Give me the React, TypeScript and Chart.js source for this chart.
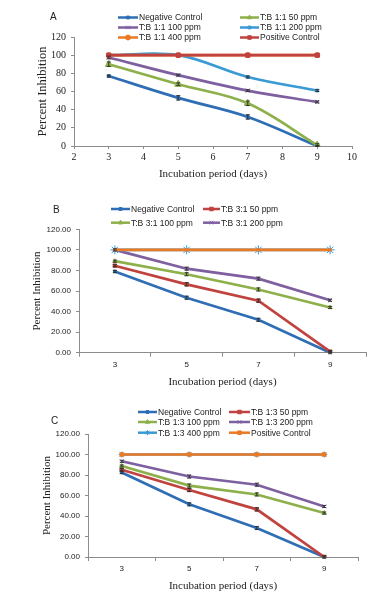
import React, { useEffect, useRef } from 'react';
import { Chart, registerables } from 'chart.js';
import { drawPoint } from 'chart.js/helpers';
Chart.register(...registerables);

// ---------- data ----------
const days = [3, 5, 7, 9];
const dayLabels = ['3', '5', '7', '9'];
const yTicksA = [0, 20, 40, 60, 80, 100, 120];

// Panel A (T:B 1:1)
const aNegative = [77, 53, 32, 0];
const a50 = [90, 68, 47, 1];
const a100 = [97.5, 78, 61, 48.5];
const a200 = [100, 100, 76, 61];
const a400 = [100, 100, 100, 100];
const aPositive = [100, 100, 100, 100];
const aNegativeErr = [1, 2.5, 2.5, 0.5];
const a50Err = [2.5, 1.5, 2.5, 1.5];
const a100Err = [1.5, 1, 1, 1];
const a200Err = [0, 0, 1, 1];

// Panel B (T:B 3:1)
const bNegative = [79, 53.5, 32, 0];
const b50 = [84.6, 66.5, 50.6, 1];
const b100 = [89, 76.3, 61.5, 44];
const b200 = [100, 81.7, 72, 51];
const b400 = [100, 100, 100, 100];
const bPositive = [100, 100, 100, 100];
const bErr = [1, 1.5, 1.5, 1];

// Panel C (T:B 1:3)
const cNegative = [82.5, 51.4, 28.3, 0];
const c50 = [85.2, 65.4, 46.5, 0];
const c100 = [88.8, 69.7, 61, 42.9];
const c200 = [93.4, 78.5, 70.5, 49.3];
const c400 = [100, 100, 100, 100];
const cPositive = [100, 100, 100, 100];
const cErr = [1, 1.5, 1.5, 1];

// ---------- styles ----------
const SANS = '"Liberation Sans", Arial, sans-serif';
const SERIF = '"Liberation Serif", "Times New Roman", serif';
const AXIS = '#8c8c8c';
const C_NEG = '#2F6EB5';
const C_GREEN = '#8DB04A';
const C_PURPLE = '#7E5FA0';
const C_AQUA = '#3A9AD4';
const C_ORANGE = '#EC7A24';
const C_RED = '#C0433F';
const LEGEND_FONT = `8.5px ${SANS}`;

type Series = {
  label: string;
  data: number[];
  color: string;
  pointStyle: string;
  radius: number;
  errors?: number[];
  legend?: [number, number] | null; // [col,row]
};

type PanelCfg = {
  top: number;
  height: number;
  letter: string;
  letterPos: [number, number];
  area: { l: number; r: number; t: number; b: number };
  linear: boolean;
  decimals: number;
  tickFont: any;
  yTitleSize: number;
  yTitleX: number;
  xTitleY: number;
  tension: number;
  series: Series[]; // index 0 drawn on top
  legendCols: [number, number, number][]; // [lineStart, lineEnd, textX]
  legendRows: number[];
};

const panels: PanelCfg[] = [
  {
    top: 0,
    height: 195,
    letter: 'A',
    letterPos: [50, 17],
    area: { l: 74, r: 352, t: 37, b: 146 },
    linear: true,
    decimals: 0,
    tickFont: { family: SERIF, size: 10 },
    yTitleSize: 12.5,
    yTitleX: 43,
    xTitleY: 174,
    tension: 0.35,
    legendCols: [[118, 138, 139], [240, 259, 260]],
    legendRows: [17.5, 27.5, 37.5],
    series: [
      { label: 'Positive Control', data: aPositive, color: C_RED, pointStyle: 'rect', radius: 3, legend: [1, 2] },
      { label: 'T:B 1:1 400 ppm', data: a400, color: C_ORANGE, pointStyle: 'circle', radius: 2.5, legend: [0, 2] },
      { label: 'T:B 1:1 200 ppm', data: a200, color: C_AQUA, pointStyle: 'rect', radius: 2, errors: a200Err, legend: [1, 1] },
      { label: 'T:B 1:1 100 ppm', data: a100, color: C_PURPLE, pointStyle: 'crossRot', radius: 3, errors: a100Err, legend: [0, 1] },
      { label: 'T:B 1:1 50 ppm', data: a50, color: C_GREEN, pointStyle: 'triangle', radius: 4, errors: a50Err, legend: [1, 0] },
      { label: 'Negative Control', data: aNegative, color: C_NEG, pointStyle: 'rect', radius: 2, errors: aNegativeErr, legend: [0, 0] },
    ],
  },
  {
    top: 195,
    height: 200,
    letter: 'B',
    letterPos: [53, 15.7],
    area: { l: 79, r: 366, t: 34.3, b: 157.7 },
    linear: false,
    decimals: 2,
    tickFont: { family: SANS, size: 8 },
    yTitleSize: 11,
    yTitleX: 37,
    xTitleY: 186.7,
    tension: 0,
    legendCols: [[111, 130, 131], [203, 220, 221]],
    legendRows: [14, 27.7],
    series: [
      { label: 'Positive Control', data: bPositive, color: C_ORANGE, pointStyle: 'rect', radius: 1.5, legend: null },
      { label: 'T:B 3:1 400 ppm', data: b400, color: C_AQUA, pointStyle: 'star', radius: 4.5, legend: null },
      { label: 'T:B 3:1 200 ppm', data: b200, color: C_PURPLE, pointStyle: 'crossRot', radius: 2.5, errors: bErr, legend: [1, 1] },
      { label: 'T:B 3:1 100 ppm', data: b100, color: C_GREEN, pointStyle: 'triangle', radius: 2.5, errors: bErr, legend: [0, 1] },
      { label: 'T:B 3:1 50 ppm', data: b50, color: C_RED, pointStyle: 'rect', radius: 2.5, errors: bErr, legend: [1, 0] },
      { label: 'Negative Control', data: bNegative, color: C_NEG, pointStyle: 'rect', radius: 2, errors: bErr, legend: [0, 0] },
    ],
  },
  {
    top: 395,
    height: 200,
    letter: 'C',
    letterPos: [51, 26],
    area: { l: 88, r: 358, t: 39, b: 162 },
    linear: false,
    decimals: 2,
    tickFont: { family: SANS, size: 8 },
    yTitleSize: 11,
    yTitleX: 47,
    xTitleY: 190.7,
    tension: 0,
    legendCols: [[138, 157, 158], [229, 250, 251]],
    legendRows: [17, 27, 37.7],
    series: [
      { label: 'Positive Control', data: cPositive, color: C_ORANGE, pointStyle: 'rect', radius: 2.5, legend: [1, 2] },
      { label: 'T:B 1:3 400 ppm', data: c400, color: C_AQUA, pointStyle: 'star', radius: 3, legend: [0, 2] },
      { label: 'T:B 1:3 200 ppm', data: c200, color: C_PURPLE, pointStyle: 'crossRot', radius: 2.5, errors: cErr, legend: [1, 1] },
      { label: 'T:B 1:3 100 ppm', data: c100, color: C_GREEN, pointStyle: 'triangle', radius: 2.5, errors: cErr, legend: [0, 1] },
      { label: 'T:B 1:3 50 ppm', data: c50, color: C_RED, pointStyle: 'rect', radius: 2.5, errors: cErr, legend: [1, 0] },
      { label: 'Negative Control', data: cNegative, color: C_NEG, pointStyle: 'rect', radius: 2, errors: cErr, legend: [0, 0] },
    ],
  },
];

const errorBarPlugin = {
  id: 'errorBars',
  afterDatasetsDraw(chart: any) {
    const ctx = chart.ctx;
    const y = chart.scales.y;
    chart.data.datasets.forEach((ds: any, i: number) => {
      if (!ds.errors) return;
      const meta = chart.getDatasetMeta(i);
      meta.data.forEach((el: any, j: number) => {
        const e = ds.errors[j];
        const v = ds.rawValues[j];
        if (!e) return;
        const y1 = y.getPixelForValue(v + e);
        const y2 = y.getPixelForValue(v - e);
        ctx.save();
        ctx.strokeStyle = '#333';
        ctx.lineWidth = 1;
        ctx.beginPath();
        ctx.moveTo(el.x, y1);
        ctx.lineTo(el.x, y2);
        ctx.moveTo(el.x - 2, y1);
        ctx.lineTo(el.x + 2, y1);
        ctx.moveTo(el.x - 2, y2);
        ctx.lineTo(el.x + 2, y2);
        ctx.stroke();
        ctx.restore();
      });
    });
  },
};

function makeOverlay(cfg: PanelCfg) {
  return {
    id: 'overlay',
    afterDraw(chart: any) {
      const ctx = chart.ctx;
      ctx.save();
      ctx.fillStyle = '#222';
      ctx.font = `10px ${SANS}`;
      ctx.textBaseline = 'middle';
      ctx.textAlign = 'left';
      ctx.fillText(cfg.letter, cfg.letterPos[0], cfg.letterPos[1]);
      cfg.series.forEach((s) => {
        if (!s.legend) return;
        const [x1, x2, tx] = cfg.legendCols[s.legend[0]];
        const yy = cfg.legendRows[s.legend[1]];
        ctx.strokeStyle = s.color;
        ctx.fillStyle = s.color;
        ctx.lineWidth = 2.5;
        ctx.beginPath();
        ctx.moveTo(x1, yy);
        ctx.lineTo(x2, yy);
        ctx.stroke();
        ctx.lineWidth = 1;
        drawPoint(ctx, { pointStyle: s.pointStyle as any, radius: Math.min(s.radius, 2.5), rotation: 0, borderWidth: 1 }, (x1 + x2) / 2, yy);
        ctx.fillStyle = '#222';
        ctx.font = LEGEND_FONT;
        ctx.fillText(s.label, tx, yy + 0.5);
      });
      ctx.restore();
    },
  };
}

function Panel({ cfg }: { cfg: PanelCfg }) {
  const ref = useRef<HTMLCanvasElement>(null);
  useEffect(() => {
    if (!ref.current) return;
    const W = 384;
    const H = cfg.height;
    const { l, r, t, b } = cfg.area;
    const yLh = cfg.yTitleSize * 1.2;
    const xLh = 11 * 1.2;
    const datasets = cfg.series.map((s) => ({
      label: s.label,
      data: cfg.linear ? days.map((d, i) => ({ x: d, y: s.data[i] })) : s.data,
      rawValues: s.data,
      errors: s.errors,
      borderColor: s.color,
      backgroundColor: s.color,
      borderWidth: 2.7,
      pointStyle: s.pointStyle,
      pointRadius: s.radius,
      pointBorderWidth: 1,
      pointBorderColor: s.color,
      pointBackgroundColor: s.color,
      tension: cfg.tension,
      fill: false,
    }));
    const xTitle = { display: true, text: 'Incubation period (days)', font: { family: SERIF, size: 11 }, color: '#222', padding: { top: 0, bottom: H - cfg.xTitleY - xLh / 2 } };
    const chart = new Chart(ref.current, {
      type: 'line',
      data: { labels: cfg.linear ? undefined : dayLabels, datasets } as any,
      options: {
        responsive: false,
        maintainAspectRatio: false,
        animation: false,
        devicePixelRatio: 1,
        layout: { padding: { left: 0, top: t, right: W - r, bottom: 0 } },
        plugins: { legend: { display: false }, tooltip: { enabled: false }, title: { display: false } },
        scales: {
          x: cfg.linear
            ? {
                type: 'linear',
                min: 2,
                max: 10,
                ticks: { stepSize: 1, font: cfg.tickFont, color: '#222', padding: 2 },
                grid: { display: true, drawOnChartArea: false, drawTicks: true, tickLength: 3, color: AXIS },
                border: { display: true, color: AXIS, width: 1 },
                title: xTitle,
                afterFit: (s: any) => { s.height = H - b; },
              }
            : {
                type: 'category',
                offset: true,
                ticks: { font: cfg.tickFont, color: '#222', padding: 3 },
                grid: { display: true, offset: true, drawOnChartArea: false, drawTicks: true, tickLength: 4, color: AXIS },
                border: { display: true, color: AXIS, width: 1 },
                title: xTitle,
                afterFit: (s: any) => { s.height = H - b; },
              },
          y: {
            type: 'linear',
            min: 0,
            max: 120,
            ticks: {
              stepSize: 20,
              font: cfg.tickFont,
              color: '#222',
              padding: 5,
              callback: (v: any) => Number(v).toFixed(cfg.decimals),
            },
            afterBuildTicks: cfg.linear ? (s: any) => { s.ticks = yTicksA.map((v) => ({ value: v })); } : undefined,
            grid: { display: true, drawOnChartArea: false, drawTicks: true, tickLength: 3, color: AXIS },
            border: { display: true, color: AXIS, width: 1 },
            title: { display: true, text: 'Percent Inhibition', font: { family: SERIF, size: cfg.yTitleSize }, color: '#222', padding: { top: cfg.yTitleX - yLh / 2, bottom: 0 } },
            afterFit: (s: any) => { s.width = l; },
          },
        } as any,
      },
      plugins: [errorBarPlugin, makeOverlay(cfg)],
    });
    return () => chart.destroy();
  }, [cfg]);
  return (
    <canvas
      ref={ref}
      width={384}
      height={cfg.height}
      style={{ position: 'absolute', left: 0, top: cfg.top, width: 384, height: cfg.height, display: 'block' }}
    />
  );
}

export default function App() {
  return (
    <div style={{ position: 'absolute', left: 0, top: 0, width: 384, height: 595, background: '#fff' }}>
      {panels.map((p) => (
        <Panel key={p.letter} cfg={p} />
      ))}
    </div>
  );
}
